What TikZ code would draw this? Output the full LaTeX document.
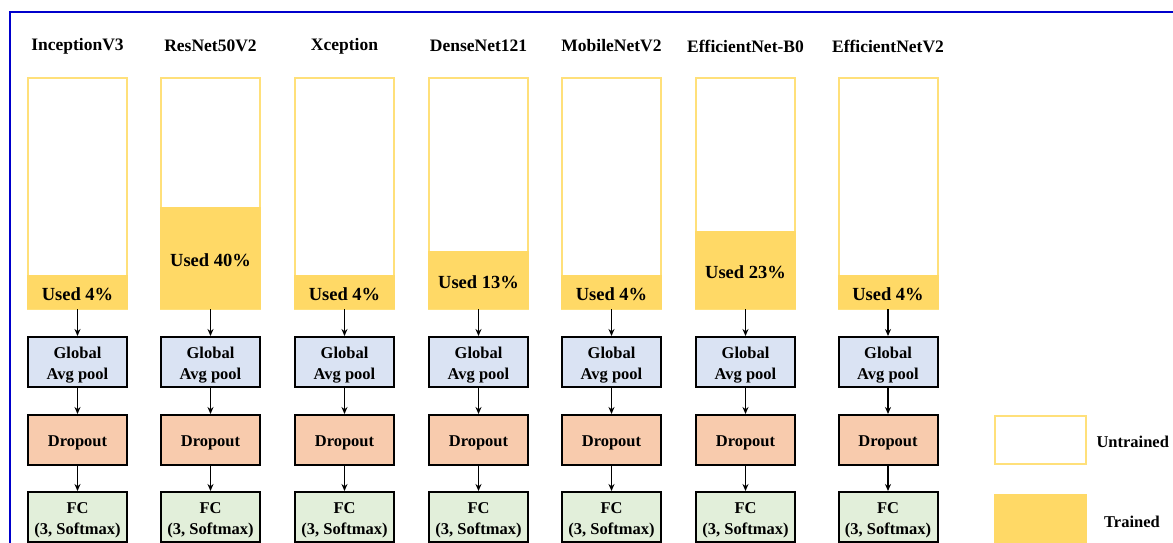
\documentclass[tikz,border=0pt]{standalone}
\usepackage{fontspec}
\setmainfont{Liberation Serif}
\newfontfamily\labelfont{Liberation Serif}
\usetikzlibrary{arrows.meta}

\definecolor{usedyellow}{HTML}{FFD966}
\definecolor{edgeyellow}{HTML}{FFE07A}
\definecolor{poolblue}{HTML}{DAE3F3}
\definecolor{dropred}{HTML}{F8CBAD}
\definecolor{fcgreen}{HTML}{E2EFDA}
\definecolor{frameblue}{HTML}{0000CC}

% move text down inside its box, keeping the box size
\newcommand{\nudge}[1]{\raisebox{-2.5pt}[\height][\depth]{#1}}

\tikzset{
  title/.style={font=\labelfont\fontsize{17.5}{20}\selectfont\bfseries},
  modelbox/.style={draw=edgeyellow, line width=2pt, minimum width=99pt, minimum height=231pt, inner sep=0pt},
  usedbox/.style={fill=usedyellow, minimum width=101pt, inner sep=0pt, anchor=south, font=\labelfont\fontsize{18.5}{20}\selectfont\bfseries},
  layer/.style={draw=black, line width=2pt, minimum width=99pt, minimum height=50pt, inner sep=0pt, font=\labelfont\fontsize{16.5}{21}\selectfont\bfseries},
  flow/.style={-{Stealth[length=7pt, width=6pt]}, line width=1.5pt}
}

\begin{document}
\begin{tikzpicture}[x=1pt, y=-1pt]
\useasboundingbox (0,0) rectangle (1173,543);
\clip (0,0) rectangle (1173,543);

\draw[frameblue, line width=2.5pt] (10,12) rectangle (1200,580);

\foreach \i/\cx/\name/\h/\pct in {1/77.5/InceptionV3/34/4, 2/210.5/ResNet50V2/102/40, 3/344.5/Xception/34/4, 4/478.5/DenseNet121/58/13, 5/611.5/MobileNetV2/34/4, 6/745.5/EfficientNet-B0/78/23, 7/888/EfficientNetV2/34/4} {
  \node[title] (title\i) at (\cx, 46) {\name};
  \node[modelbox] (model\i) at (\cx, 193.5) {};
  \node[usedbox, minimum height=\h pt] (used\i) at ([yshift=1pt]model\i.south) {\nudge{Used \pct\%}};
  \node[layer, fill=poolblue] (pool\i) at (\cx, 362) {\nudge{\begin{tabular}{@{}c@{}}Global\\Avg pool\end{tabular}}};
  \node[layer, fill=dropred] (drop\i) at (\cx, 440) {\nudge{Dropout}};
  \node[layer, fill=fcgreen] (fc\i) at (\cx, 517) {\nudge{\begin{tabular}{@{}c@{}}FC\\(3, Softmax)\end{tabular}}};
  \draw[flow] (used\i) -- (pool\i);
  \draw[flow] (pool\i) -- (drop\i);
  \draw[flow] (drop\i) -- (fc\i);
}

% legend
\node[draw=edgeyellow, line width=2pt, minimum width=91pt, minimum height=48pt] (untrainedkey) at (1040.5, 440) {};
\node[anchor=west, font=\labelfont\fontsize{16.5}{20}\selectfont\bfseries] (untrainedtext) at ([xshift=6pt, yshift=-2pt]untrainedkey.east) {Untrained};
\node[fill=usedyellow, minimum width=93pt, minimum height=50pt] (trainedkey) at (1040.5, 519) {};
\node[font=\labelfont\fontsize{16.5}{20}\selectfont\bfseries] (trainedtext) at (1132, 521.5) {Trained};
\end{tikzpicture}
\end{document}
